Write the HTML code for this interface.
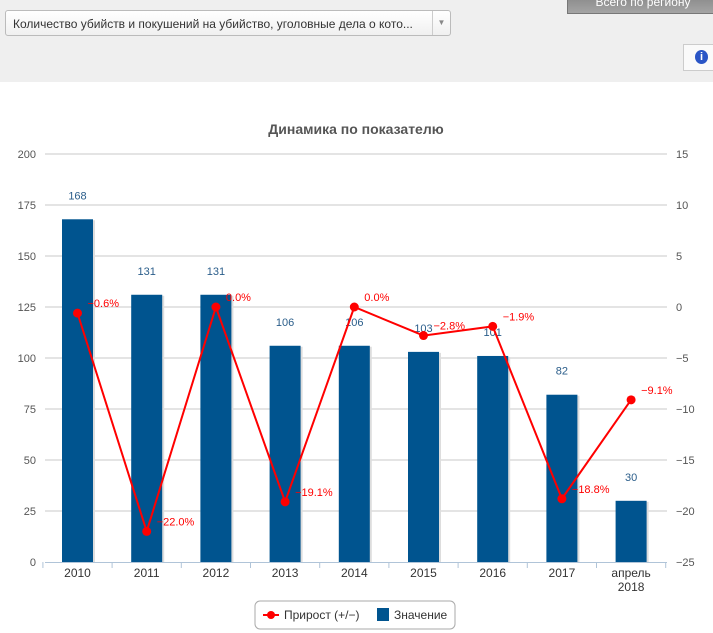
<!DOCTYPE html>
<html><head><meta charset="utf-8"><style>
body{margin:0;width:713px;height:633px;overflow:hidden;background:#fff;font-family:"Liberation Sans","DejaVu Sans",sans-serif;position:relative}
.hdr{position:absolute;left:0;top:0;width:713px;height:82px;background:#efefef}
.sel{position:absolute;left:5px;top:10px;width:446px;height:26px;border:1px solid #bbb;border-radius:3px;background:linear-gradient(#fff,#f0f0f0);font-size:12px;line-height:26px;color:#333;box-sizing:border-box}
.sel span{padding-left:7px}
.arr{position:absolute;right:0;top:0;width:17px;height:24px;border-left:1px solid #ccc;color:#888;font-size:8px;text-align:center;line-height:24px}
.tip{position:absolute;left:567px;top:-6px;width:150px;height:18px;background:linear-gradient(#888,#a4a4a4);border:1px solid #777;color:#fff;font-size:12px;text-align:center;line-height:14px}
.info{position:absolute;left:683px;top:44px;width:32px;height:25px;border:1px solid #ccc;background:#fafafa}
.info i{position:absolute;left:11px;top:5px;width:13px;height:14px;border-radius:50%;background:#2a55c6;color:#fff;font-size:11px;font-weight:bold;font-style:normal;text-align:center;line-height:14px}
</style></head><body>
<div class="hdr"></div>
<div class="sel"><span>Количество убийств и покушений на убийство, уголовные дела о кото...</span><div class="arr">▼</div></div>
<div class="tip">Всего по региону</div>
<div class="info"><i>i</i></div>
<svg id="c" width="713" height="633" style="position:absolute;left:0;top:0"></svg>
<script>
const categories=["2010","2011","2012","2013","2014","2015","2016","2017","апрель|2018"];
const values=[168,131,131,106,106,103,101,82,30];
const growth=[-0.6,-22.0,0.0,-19.1,0.0,-2.8,-1.9,-18.8,-9.1];
const leftTicks=[0,25,50,75,100,125,150,175,200];
const rightTicks=[-25,-20,-15,-10,-5,0,5,10,15];
const NS="http://www.w3.org/2000/svg";
const svg=document.getElementById('c');
const X0=45,X1=667,Y0=562,Y1=154;
const bw=69.2;
const yL=v=>Y0-(v/200)*(Y0-Y1);
const yR=v=>Y0-((v+25)/40)*(Y0-Y1);
const xc=i=>77.5+bw*i;
function el(t,a,txt){const e=document.createElementNS(NS,t);for(const k in a)e.setAttribute(k,a[k]);if(txt!=null)e.textContent=txt;svg.appendChild(e);return e;}
let t=el('text',{x:356,y:134,'text-anchor':'middle','font-size':14,'font-weight':'bold',fill:'#555'},'Динамика по показателю');


leftTicks.forEach((v,i)=>{const y=yL(v);
 if(v>0){const g=el('line',{x1:X0,x2:X1,y1:y,y2:y,stroke:'#c8c8c8'});}
 const l=el('text',{x:36,y:y+4,'text-anchor':'end','font-size':11,fill:'#555'},v);});
rightTicks.forEach(v=>{const l=el('text',{x:676,y:yR(v)+4,'font-size':11,fill:'#555'},v<0?'−'+(-v):v);});
const ax=el('line',{x1:X0,x2:X1,y1:Y0+0.5,y2:Y0+0.5,stroke:'#b0c4d8'});
for(let i=0;i<=categories.length;i++){const x=xc(i)-bw/2;const tk=el('line',{x1:x,x2:x,y1:Y0,y2:Y0+6,stroke:'#b0c4d8'});}
values.forEach((v,i)=>{const x=xc(i)-15.5,y=yL(v);
 const s=el('rect',{x:x+2,y:y+1,width:31,height:Y0-y-1,fill:'#ddd'});
 const b=el('rect',{x:x,y:y,width:31,height:Y0-y,fill:'#00548f'});
 const l=el('text',{x:xc(i),y:y-20,'text-anchor':'middle','font-size':11,fill:'#2a5d8a'},v);
 const parts=categories[i].split('|');parts.forEach((p,j)=>{const c=el('text',{x:xc(i),y:Y0+15+j*14,'text-anchor':'middle','font-size':12,fill:'#333'},p);});
});
const pts=growth.map((g,i)=>xc(i)+','+yR(g)).join(' ');
const pl=el('polyline',{points:pts,fill:'none',stroke:'#f00',"stroke-width":2});
growth.forEach((g,i)=>{const c=el('circle',{cx:xc(i),cy:yR(g),r:4.5,fill:'#f00'});
 const s=(g<0?'−':'')+Math.abs(g).toFixed(1)+'%';
 const l=el('text',{x:xc(i)+10,y:yR(g)-6,'font-size':11,fill:'#f00'},s);});
const lg=el('rect',{x:255,y:601,width:200,height:28,rx:5,fill:'#fff',stroke:'#aaa'});
const l1=el('line',{x1:263,x2:279,y1:615,y2:615,stroke:'#f00','stroke-width':2});
const l2=el('circle',{cx:271,cy:615,r:4,fill:'#f00'});
const l3=el('text',{x:284,y:619,'font-size':12,fill:'#333'},'Прирост (+/−)');
const l4=el('rect',{x:377,y:608,width:12,height:13,fill:'#00548f'});
const l5=el('text',{x:394,y:619,'font-size':12,fill:'#333'},'Значение');
</script>
</body></html>
